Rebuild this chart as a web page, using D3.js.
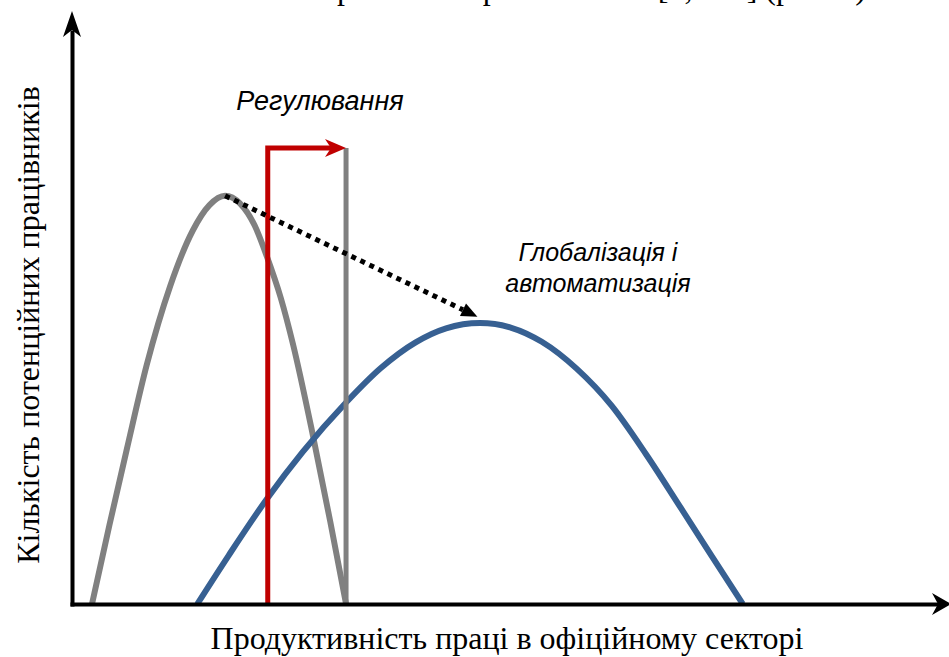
<!DOCTYPE html>
<html><head><meta charset="utf-8">
<script src="https://cdn.jsdelivr.net/npm/d3@7"></script>
<style>body{margin:0;background:#fff;}svg{display:block;}</style>
</head><body>
<svg id="c" width="949" height="657"></svg>
<script>
// ---- data (x: productivity, y: number of potential workers) ----
const grayX = [2.3, 4.3, 6.3, 8.6, 11.3, 13.9, 15.8, 17.6, 19.3, 21.0, 22.4, 24.0, 25.4, 27.7, 29.7, 31.5];
const grayY = [0, 13.5, 26.5, 41, 54.5, 64, 68.3, 69.9, 68.6, 64.8, 59.5, 52.4, 44.5, 28.8, 14, 0];
const blueX = [14.4, 18, 22.5, 26.5, 31.5, 35.5, 39.5, 43, 46.9, 50.5, 54, 58, 62, 66, 70, 73.5, 77.1];
const blueY = [0, 8.3, 18.2, 26.0, 34.5, 40.4, 44.8, 47.2, 48.1, 47.3, 44.9, 40.3, 34.0, 25.6, 16.4, 8.3, 0];
const minWageX = 22.5;       // red regulation line
const newMinWageX = 31.5;    // gray cut-off line
const barTop = 78.1;
const arrowEndX = 30.0;
const shiftFrom = [17.6, 69.9];
const shiftTo = [46.6, 49.2];
const labels = {
  reg: "Регулювання",
  glob: ["Глобалізація і", "автоматизація"],
  xTitle: "Продуктивність праці в офіційному секторі",
  yTitle: "Кількість потенційних працівників",
  top: "тіньовий сектор і також при зниженні [5, с. 2] (рис. 2)"
};

const svg = d3.select("#c");
const x = d3.scaleLinear([0, 100], [72, 942]);
const y = d3.scaleLinear([0, 100], [604, 20]);
const serif = "Liberation Serif, Times New Roman, serif";
const sans = "Liberation Sans, Arial, sans-serif";

// top cut-off text (line of preceding paragraph)
svg.append("text").attr("x", 866).attr("y", -1).attr("text-anchor", "end")
  .attr("font-family", serif).attr("font-size", 32)
  .text(labels.top);

const line = d3.line().x(d => x(d[0])).y(d => y(d[1])).curve(d3.curveMonotoneX);

// gray curve
svg.append("path").datum(d3.zip(grayX, grayY)).attr("d", line)
  .attr("fill", "none").attr("stroke", "#808080").attr("stroke-width", 6).attr("stroke-linejoin", "round");
// blue curve
svg.append("path").datum(d3.zip(blueX, blueY)).attr("d", line)
  .attr("fill", "none").attr("stroke", "#376092").attr("stroke-width", 6);

// gray vertical line
svg.append("line").attr("x1", x(newMinWageX)).attr("x2", x(newMinWageX))
  .attr("y1", y(0)).attr("y2", y(barTop)).attr("stroke", "#808080").attr("stroke-width", 5);

// red regulation path
const red = "#C00000";
svg.append("path").attr("d", `M${x(minWageX)},${y(0)}V${y(barTop)}H${x(arrowEndX)}`)
  .attr("fill", "none").attr("stroke", red).attr("stroke-width", 5).attr("stroke-linejoin", "miter");
{
  const tx = x(arrowEndX) + 13, ty = y(barTop);
  svg.append("path").attr("d", `M${tx},${ty}L${tx-21},${ty-9}L${tx-15},${ty}L${tx-21},${ty+9}Z`).attr("fill", red);
}

// dotted shift arrow
{
  const x1 = x(shiftFrom[0]), y1 = y(shiftFrom[1]), x2 = x(shiftTo[0]), y2 = y(shiftTo[1]);
  const ang = Math.atan2(y2 - y1, x2 - x1);
  const L = 16, W = 7;
  const bx = x2 - L * Math.cos(ang), by = y2 - L * Math.sin(ang);
  svg.append("line").attr("x1", x1).attr("y1", y1).attr("x2", bx).attr("y2", by)
    .attr("stroke", "#000").attr("stroke-width", 5).attr("stroke-dasharray", "5 5");
  const px = -Math.sin(ang), py = Math.cos(ang);
  svg.append("path").attr("d", `M${x2},${y2}L${bx + px*W},${by + py*W}L${bx - px*W},${by - py*W}Z`).attr("fill", "#000");
}

// axes
svg.append("g").attr("transform", `translate(0,${y(0)})`)
  .call(d3.axisBottom(d3.scaleLinear([0, 1], [70, 940])).tickValues([]).tickSizeOuter(0));
svg.append("g").attr("transform", `translate(${x(0)},0)`)
  .call(d3.axisLeft(d3.scaleLinear([0, 1], [606, 30])).tickValues([]).tickSizeOuter(0));
svg.selectAll(".domain").attr("stroke", "#000").attr("stroke-width", 4);
svg.append("path").attr("d", `M951,${y(0)}L932,${y(0)-11}L938,${y(0)}L932,${y(0)+11}Z`).attr("fill", "#000");
svg.append("path").attr("d", `M${x(0)},11L${x(0)-9},37L${x(0)},30L${x(0)+9},37Z`).attr("fill", "#000");

// annotations
svg.append("text").attr("x", 320).attr("y", 110).attr("text-anchor", "middle")
  .attr("font-family", sans).attr("font-style", "italic").attr("font-size", 27).text(labels.reg);
svg.append("text").attr("text-anchor", "middle").attr("font-family", sans)
  .attr("font-style", "italic").attr("font-size", 25)
  .selectAll("tspan").data(labels.glob).join("tspan")
  .attr("x", 598).attr("y", (d, i) => 261 + i * 31).text(d => d);

// axis titles
svg.append("text").attr("x", 507).attr("y", 649).attr("text-anchor", "middle")
  .attr("font-family", serif).attr("font-size", 32).text(labels.xTitle);
svg.append("text").attr("transform", "translate(39,325) rotate(-90)").attr("text-anchor", "middle")
  .attr("font-family", serif).attr("font-size", 32).text(labels.yTitle);
</script>
</body></html>
